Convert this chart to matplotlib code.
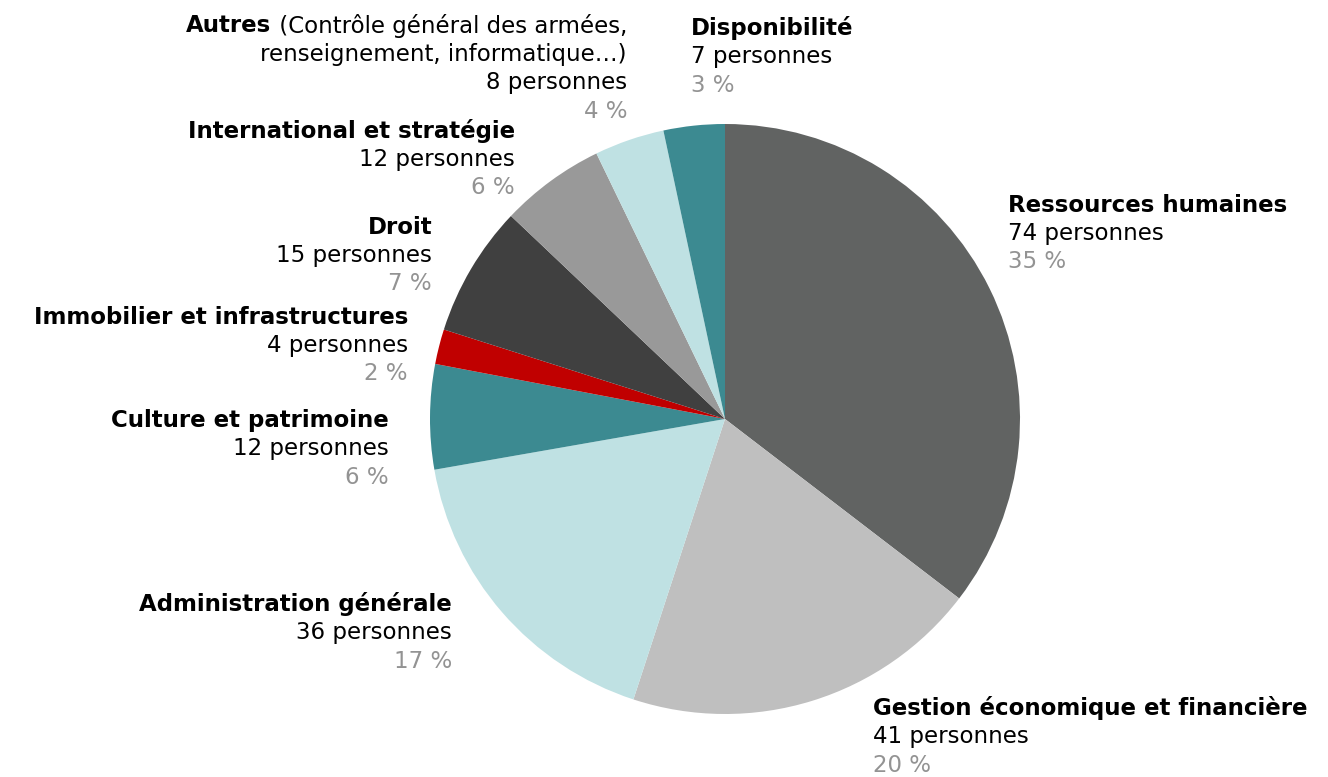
import matplotlib.pyplot as plt

labels = ["Ressources humaines", "Gestion économique et financière", "Administration générale",
          "Culture et patrimoine", "Immobilier et infrastructures", "Droit",
          "International et stratégie", "Autres", "Disponibilité"]
counts = [74, 41, 36, 12, 4, 15, 12, 8, 7]
percents = ["35 %", "20 %", "17 %", "6 %", "2 %", "7 %", "6 %", "4 %", "3 %"]
colors = ["#616362", "#bfbfbf", "#bfe1e3", "#3c8a91", "#c00000", "#404040",
          "#999999", "#bfe1e3", "#3c8a91"]

# label anchor (x, y of first line in pixels from top), alignment
label_pos = [(1008, 205, "left"), (873, 708, "left"), (452, 604, "right"),
             (389, 420, "right"), (408, 317, "right"), (432, 227, "right"),
             (515, 131, "right"), (627, 26, "right"), (691, 28, "left")]

H = 777
fig = plt.figure(figsize=(13.28, 7.77), dpi=100)
ax = fig.add_axes([0, 0, 1, 1])

ax.pie(counts, colors=colors, startangle=90, counterclock=False,
       center=(725, H - 419), radius=295, frame=True,
       wedgeprops=dict(linewidth=0))
ax.set_xlim(0, 1328)
ax.set_ylim(0, H)
ax.axis("off")

fs = 16.5
step = 28.5
grey = "#939393"

for i, (lab, n, p) in enumerate(zip(labels, counts, percents)):
    x, y, ha = label_pos[i]
    if lab == "Autres":
        t = ax.text(x, H - y, " (Contrôle général des armées,", ha="right", va="center",
                    fontsize=fs, color="black")
        fig.canvas.draw()
        bb = t.get_window_extent()
        ax.text(bb.x0, H - y, "Autres", ha="right", va="center", fontsize=fs,
                fontweight="bold", color="black")
        ax.text(x, H - y - step, "renseignement, informatique…)", ha="right",
                va="center", fontsize=fs, color="black")
        y = y + step
    else:
        ax.text(x, H - y, lab, ha=ha, va="center", fontsize=fs, fontweight="bold",
                color="black")
    ax.text(x, H - y - step, f"{n} personnes", ha=ha, va="center", fontsize=fs,
            color="black")
    ax.text(x, H - y - 2 * step, p, ha=ha, va="center", fontsize=fs, color=grey)

fig.savefig("out.png", dpi=100)
